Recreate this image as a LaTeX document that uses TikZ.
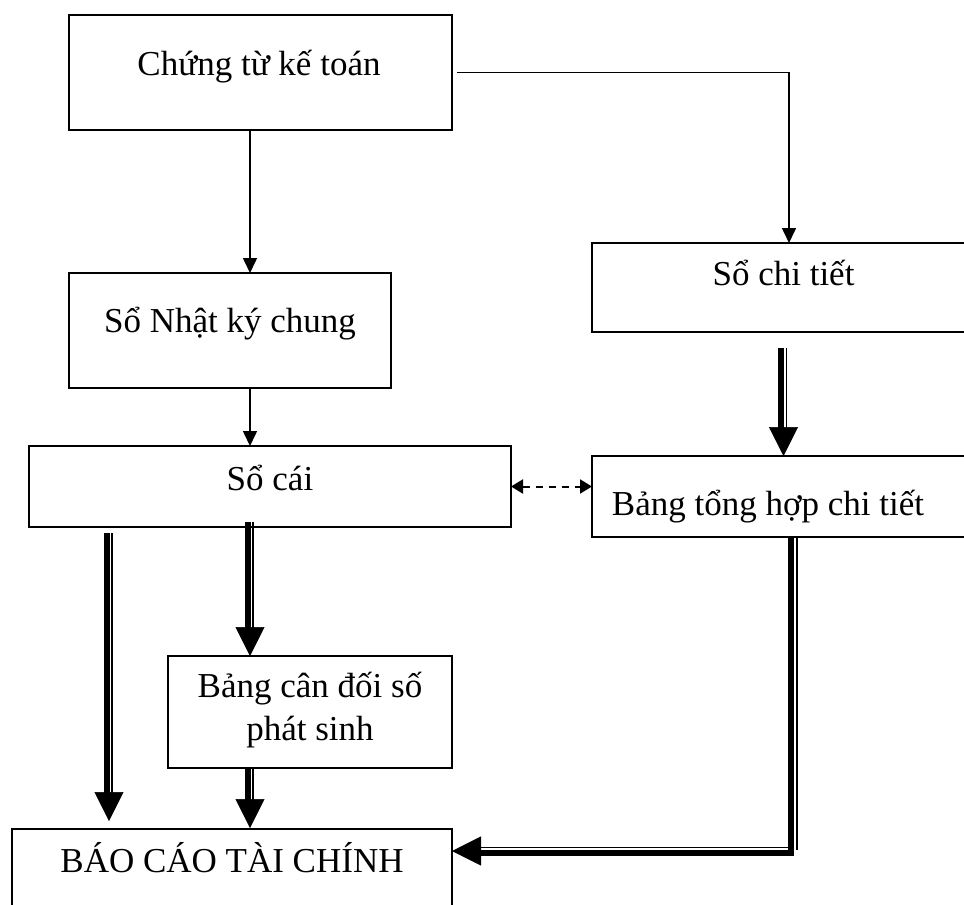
\documentclass[tikz,border=0pt]{standalone}
\usepackage{fontspec}
\setmainfont{Liberation Serif}
\usetikzlibrary{arrows.meta,calc}

% Heavy double-line arrow pointing down: thick shaft, thin shaft, big head
\newcommand\dbldown[2]{%
  \draw[heavy, shorten >=27pt, transform canvas={xshift=-2.5pt}] (#1) -- (#2);
  \draw[light, shorten >=27pt, transform canvas={xshift=3pt}] (#1) -- (#2);
  \draw[bighead] (#1) -- (#2);}

\begin{document}
\begin{tikzpicture}[x=1pt,y=-1pt,
  box/.style={draw, line width=2pt, rectangle, inner sep=0pt, outer sep=0pt},
  lbl/.style={anchor=base, inner sep=0pt, font=\fontsize{35}{43}\selectfont},
  thinarrow/.style={line width=1.6pt, -{Triangle[width=14pt,length=15pt]}},
  dasharrow/.style={line width=2pt, dash pattern=on 7pt off 6pt,
    {Triangle[width=14pt,length=12pt]}-{Triangle[width=14pt,length=12pt]}},
  heavy/.style={line width=6pt},
  light/.style={line width=1.5pt},
  bighead/.style={line width=0.5pt, -{Triangle[width=29pt,length=29pt]}}
]
\useasboundingbox (0,0) rectangle (964,905);
\clip (0,0) rectangle (964,905);

% boxes
\node[box, minimum width=383, minimum height=115] (ct)   at (260.5,72.5) {};
\node[box, minimum width=322, minimum height=115] (snk)  at (230,330.5)  {};
\node[box, minimum width=383, minimum height=89]  (sct)  at (783.5,287.5) {};
\node[box, minimum width=482, minimum height=81]  (sc)   at (270,486.5)  {};
\node[box, minimum width=383, minimum height=81]  (bth)  at (783.5,496.5) {};
\node[box, minimum width=284, minimum height=112] (bcd)  at (310,712)    {};
\node[box, minimum width=440, minimum height=86]  (bctc) at (232,872)    {};

% texts
\node[lbl] (ct-t)   at (259,75)    {Chứng từ kế toán};
\node[lbl] (snk-t)  at (230,332)   {Sổ Nhật ký chung};
\node[lbl] (sct-t)  at (783.5,285) {Sổ chi tiết};
\node[lbl] (sc-t)   at (270,490)   {Sổ cái};
\node[lbl] (bth-t)  at (768,515)   {Bảng tổng hợp chi tiết};
\node[lbl] (bcd-t1) at (310,697)   {Bảng cân đối số};
\node[lbl] (bcd-t2) at (310,740)   {phát sinh};
\node[lbl] (bctc-t) at (232,872)   {BÁO CÁO TÀI CHÍNH};

% columns used by the vertical connectors
\coordinate (colM) at (250,0);
\coordinate (colR) at (789,0);
\coordinate (colL) at (109,0);
\coordinate (colV) at (790.5,0);

% thin arrows
\draw[thinarrow] (ct.south -| colM) -- (snk.north -| colM);
\draw[thinarrow] (snk.south -| colM) -- (sc.north -| colM);
\draw[thinarrow] ($(ct.east)+(5,0)$) -| (sct.north -| colR);

% dashed two-way link
\draw[dasharrow] (sc.east) -- (sc.east -| bth.west);

% double arrows
\coordinate (a1) at ($(sct.south)+(0,16)$);
\coordinate (b1) at (bth.north);
\dbldown{a1}{b1}
\coordinate (a2) at ($(sc.south -| colL)+(0,6)$);
\coordinate (b2) at ($(bctc.north -| colL)+(0,-8)$);
\dbldown{a2}{b2}
\coordinate (a3) at ($(sc.south -| colM)+(0,-5)$);
\coordinate (b3) at (bcd.north -| colM);
\dbldown{a3}{b3}
\coordinate (a4) at (bcd.south -| colM);
\coordinate (b4) at ($(bctc.north -| colM)+(0,-1)$);
\dbldown{a4}{b4}

% bent double arrow into the report box
\coordinate (lTop) at (bth.south -| colV);
\coordinate (lTip) at ($(bctc.east)+(0,-21)$);
\draw[heavy] (lTop) |- ($(lTip)+(27,1.5)$);
\draw[light] ($(lTop)+(6.5,0)$) -- ++(0,313)
             ($(lTip)+(27,-3.5)$) -- ++(312,0);
\draw[bighead] ($(lTip)+(338,0)$) -- (lTip);
\end{tikzpicture}
\end{document}
